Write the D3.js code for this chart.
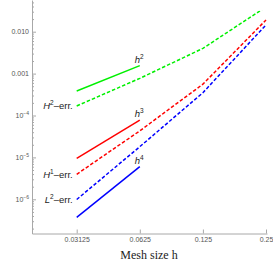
<!DOCTYPE html>
<html><head><meta charset="utf-8">
<script src="https://cdn.jsdelivr.net/npm/d3@7"></script>
<style>
html,body{margin:0;padding:0;background:#fff;}
svg{display:block;}
</style>
</head><body>
<svg id="c" width="273" height="264"></svg>
<script>
// ---- data ----
const meshSizes = [0.03125, 0.0625, 0.125, 0.25];
const xTickLabels = ["0.03125", "0.0625", "0.125", "0.25"];
const yTickValues = [1e-2, 1e-3, 1e-4, 1e-5, 1e-6];
const yTickLabels = [["0.010", ""], ["0.001", ""], ["10", "\u22124"], ["10", "\u22125"], ["10", "\u22126"]];

const h2Err = [1.69e-4, 7.7e-4, 4.0e-3, 0.039];
const h1Err = [3.95e-6, 4.3e-5, 5.6e-4, 0.019];
const l2Err = [9.9e-7, 1.8e-5, 3.5e-4, 0.0145];

const refH = [0.03125, 0.0625];
const refH2 = [3.85e-4, 1.55e-3];
const refH3 = [9.5e-6, 7.8e-5];
const refH4 = [3.7e-7, 6.0e-6];

const errLabels = [["H", "2", "\u2013err."], ["H", "1", "\u2013err."], ["L", "2", "\u2013err."]];
const refLabels = [["h", "2"], ["h", "3"], ["h", "4"]];
const colors = ["#00f000", "#ff0000", "#0000ff"];
const xTitle = "Mesh size h";
const clipTop = Math.pow(10, -1.5);

// ---- scales ----
const svg = d3.select("#c");
const x0 = d3.scaleLog().base(2).domain([0.03125, 0.25]).range([76.7, 266]);
const x = d3.scaleLog().base(2).domain([x0.invert(32), x0.invert(267)]).range([32, 267]);
const y0 = d3.scaleLog().domain([1e-2, 1e-6]).range([31.7, 199.3]);
const y = d3.scaleLog().domain([y0.invert(233.5), y0.invert(0)]).range([233.5, 0]);

const axisColor = "#a8a8a8";
const labColor = "#555";

// minor y ticks
const minor = [];
for (let e = -7; e <= -1; e++) for (let m = 2; m <= 9; m++) {
  const v = m * Math.pow(10, e);
  if (v >= y.domain()[0] && v <= y.domain()[1]) minor.push(v);
}
svg.append("g").attr("transform", "translate(32,0)")
  .call(d3.axisLeft(y).tickValues(minor).tickSize(-2).tickFormat(""))
  .call(g => { g.select(".domain").remove(); g.selectAll("line").attr("stroke", axisColor); });

// y axis
const gy = svg.append("g").attr("transform", "translate(32,0)")
  .call(d3.axisLeft(y).tickValues(yTickValues).tickSize(-4).tickSizeOuter(0).tickPadding(3).tickFormat(""));
gy.select(".domain").attr("stroke", axisColor);
gy.selectAll("line").attr("stroke", axisColor);
gy.selectAll(".tick text").each(function(d, i) {
  const t = d3.select(this).attr("font-family", "Liberation Sans, Arial, sans-serif")
    .attr("font-size", 7).attr("fill", labColor);
  const lab = yTickLabels[i];
  t.append("tspan").text(lab[0]);
  if (lab[1]) t.append("tspan").attr("font-size", 5).attr("dy", -3).text(lab[1]);
});

// x axis
const gx = svg.append("g").attr("transform", "translate(0,233.5)")
  .call(d3.axisBottom(x).tickValues(meshSizes).tickSize(-4).tickSizeOuter(0).tickPadding(3)
    .tickFormat((d, i) => xTickLabels[i]));
gx.select(".domain").attr("stroke", axisColor);
gx.selectAll("line").attr("stroke", axisColor);
gx.selectAll("text").attr("font-family", "Liberation Sans, Arial, sans-serif")
  .attr("font-size", 7).attr("fill", labColor).attr("dy", "0.75em");

svg.append("text").attr("x", 149).attr("y", 259).attr("text-anchor", "middle")
  .attr("font-family", "Liberation Serif, Times New Roman, serif").attr("font-size", 12)
  .attr("fill", "#222").text(xTitle);

// clip
svg.append("clipPath").attr("id", "pc").append("rect")
  .attr("x", x.range()[0]).attr("y", y(clipTop))
  .attr("width", x.range()[1] - x.range()[0]).attr("height", y.range()[0] - y(clipTop));

const line = d3.line().x(d => x(d[0])).y(d => y(d[1]));
const plot = svg.append("g").attr("clip-path", "url(#pc)");

const errSeries = [h2Err, h1Err, l2Err];
errSeries.forEach((s, i) => {
  plot.append("path").datum(meshSizes.map((h, j) => [h, s[j]])).attr("d", line)
    .attr("fill", "none").attr("stroke", colors[i]).attr("stroke-width", 1.5)
    .attr("stroke-dasharray", "3.5,2");
});
const refSeries = [refH2, refH3, refH4];
refSeries.forEach((s, i) => {
  plot.append("path").datum(refH.map((h, j) => [h, s[j]])).attr("d", line)
    .attr("fill", "none").attr("stroke", colors[i]).attr("stroke-width", 1.5);
});

// labels for error curves (left of first point)
errSeries.forEach((s, i) => {
  const t = svg.append("text").attr("x", x(meshSizes[0]) - 4).attr("y", y(s[0]) + 3.5)
    .attr("text-anchor", "end").attr("font-family", "Liberation Sans, Arial, sans-serif")
    .attr("font-size", 9.5).attr("fill", "#222");
  const L = errLabels[i];
  t.append("tspan").attr("font-style", "italic").text(L[0]);
  t.append("tspan").attr("font-size", 6.5).attr("dy", -4).text(L[1]);
  t.append("tspan").attr("dy", 4).text(L[2]);
});
// labels for reference slopes
refSeries.forEach((s, i) => {
  const t = svg.append("text").attr("x", x(refH[1]) - 5).attr("y", y(s[1]) - 3)
    .attr("font-family", "Liberation Sans, Arial, sans-serif")
    .attr("font-size", 9.5).attr("fill", "#222");
  const L = refLabels[i];
  t.append("tspan").attr("font-style", "italic").text(L[0]);
  t.append("tspan").attr("font-size", 6.5).attr("dy", -4).text(L[1]);
});
</script>
</body></html>
